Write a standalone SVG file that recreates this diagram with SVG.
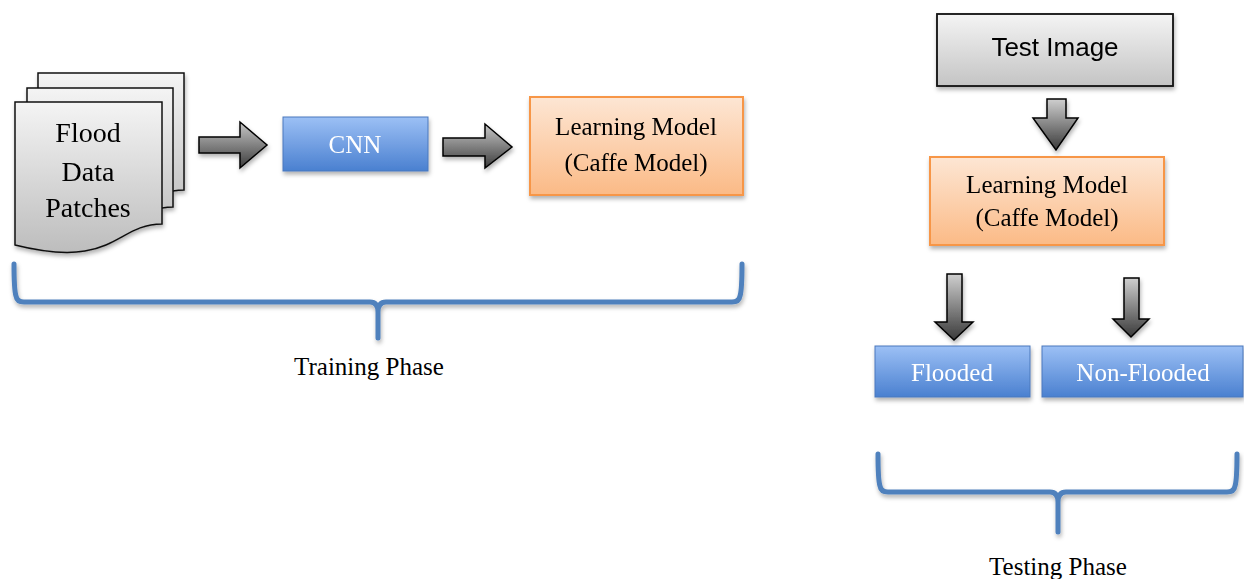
<svg xmlns="http://www.w3.org/2000/svg" width="1244" height="579" viewBox="0 0 1244 579">
<defs>
<linearGradient id="gGray" x1="0" y1="0" x2="0" y2="1"><stop offset="0" stop-color="#f4f4f4"/><stop offset="1" stop-color="#c4c4c4"/></linearGradient>
<linearGradient id="gPage" x1="0" y1="0" x2="0" y2="1"><stop offset="0" stop-color="#f4f4f4"/><stop offset="1" stop-color="#bdbdbd"/></linearGradient>
<linearGradient id="gBlue" x1="0" y1="0" x2="0" y2="1"><stop offset="0" stop-color="#9cc0f5"/><stop offset="1" stop-color="#4a80d0"/></linearGradient>
<linearGradient id="gOrange" x1="0" y1="0" x2="0" y2="1"><stop offset="0" stop-color="#fde6d4"/><stop offset="1" stop-color="#fbba86"/></linearGradient>
<linearGradient id="gArrowH" x1="0" y1="0" x2="0" y2="1"><stop offset="0" stop-color="#c8c8c8"/><stop offset="1" stop-color="#3c3c3c"/></linearGradient>
<linearGradient id="gArrowV" x1="0" y1="0" x2="0" y2="1"><stop offset="0" stop-color="#cfcfcf"/><stop offset="1" stop-color="#3a3a3a"/></linearGradient>
<filter id="sh" x="-10%" y="-10%" width="130%" height="140%"><feDropShadow dx="1" dy="3" stdDeviation="2" flood-color="#000" flood-opacity="0.3"/></filter>
</defs>
<style>
.serif{font-family:"Liberation Serif","Times New Roman",serif;text-anchor:middle}
.sans{font-family:"Liberation Sans",Arial,sans-serif;text-anchor:middle}
.page{fill:url(#gPage);stroke:#111;stroke-width:1.5}
.box-blue{fill:url(#gBlue);stroke:#4a78bd;stroke-width:1}
.box-orange{fill:url(#gOrange);stroke:#f79646;stroke-width:2}
.box-gray{fill:url(#gGray);stroke:#111;stroke-width:1.8}
.arrH{fill:url(#gArrowH);stroke:#000;stroke-width:1.5}
.arrV{fill:url(#gArrowV);stroke:#000;stroke-width:1.5}
.brace{fill:none;stroke:#4f81bd;stroke-width:5;stroke-linecap:round;stroke-linejoin:round}
.white{fill:#fff}
</style>

<g id="flood-data-patches" filter="url(#sh)">
<path class="page" d="M38,73 H184 V190 C138,190 138,235 38,213 Z"/>
<path class="page" d="M27,88 H173 V207 C127,207 127,252 27,229 Z"/>
<path class="page" d="M15,102 H162 V224 C115,224 115,270 15,245 Z"/>
<text class="serif" x="88" y="142" font-size="28">Flood</text>
<text class="serif" x="88" y="181" font-size="28">Data</text>
<text class="serif" x="88" y="217" font-size="28">Patches</text>
</g>

<g id="cnn" filter="url(#sh)">
<rect class="box-blue" x="283" y="117" width="145" height="54"/>
<text class="serif white" x="355" y="153" font-size="25">CNN</text>
</g>

<g id="learning-model-train" filter="url(#sh)">
<rect class="box-orange" x="530" y="97" width="213" height="98"/>
<text class="serif" x="636" y="135" font-size="25">Learning Model</text>
<text class="serif" x="636" y="171" font-size="25">(Caffe Model)</text>
</g>

<g id="test-image" filter="url(#sh)">
<rect class="box-gray" x="937" y="14" width="236" height="72"/>
<text class="sans" x="1055" y="56" font-size="26">Test Image</text>
</g>

<g id="learning-model-test" filter="url(#sh)">
<rect class="box-orange" x="930" y="157" width="234" height="88"/>
<text class="serif" x="1047" y="193" font-size="25">Learning Model</text>
<text class="serif" x="1047" y="226" font-size="25">(Caffe Model)</text>
</g>

<g id="flooded" filter="url(#sh)">
<rect class="box-blue" x="875" y="346" width="155" height="51"/>
<text class="serif white" x="952" y="381" font-size="25">Flooded</text>
</g>

<g id="non-flooded" filter="url(#sh)">
<rect class="box-blue" x="1042" y="346" width="201" height="51"/>
<text class="serif white" x="1143" y="381" font-size="25">Non-Flooded</text>
</g>

<g id="connectors" filter="url(#sh)">
<path class="arrH" d="M199,137 H240 V122 L267,145 L240,168 V153 H199 Z"/>
<path class="arrH" d="M443,138 H485 V124 L512,147 L485,168 V156 H443 Z"/>
<path class="arrV" d="M1047,99 H1066 V118 H1078 L1056,150 L1033,118 H1047 Z"/>
<path class="arrV" d="M947,274 H962 V322 H973 L954,340 L935,322 H947 Z"/>
<path class="arrV" d="M1124,278 H1139 V319 H1149 L1131,337 L1113,319 H1124 Z"/>
</g>

<g id="training-phase">
<path class="brace" filter="url(#sh)" d="M14,264 Q14,290 16,296 Q17,302 24,302 H370 Q378,302 378,312 V338 M378,312 Q378,302 386,302 H732 Q739,302 740,296 Q742,290 742,264"/>
<text class="serif" x="369" y="375" font-size="25">Training Phase</text>
</g>

<g id="testing-phase">
<path class="brace" filter="url(#sh)" d="M878,454 Q878,480 880,486 Q881,492 888,492 H1050 Q1058,492 1058,502 V532 M1058,502 Q1058,492 1066,492 H1227 Q1234,492 1235,486 Q1237,480 1237,454"/>
<text class="serif" x="1058" y="575" font-size="25">Testing Phase</text>
</g>
</svg>
